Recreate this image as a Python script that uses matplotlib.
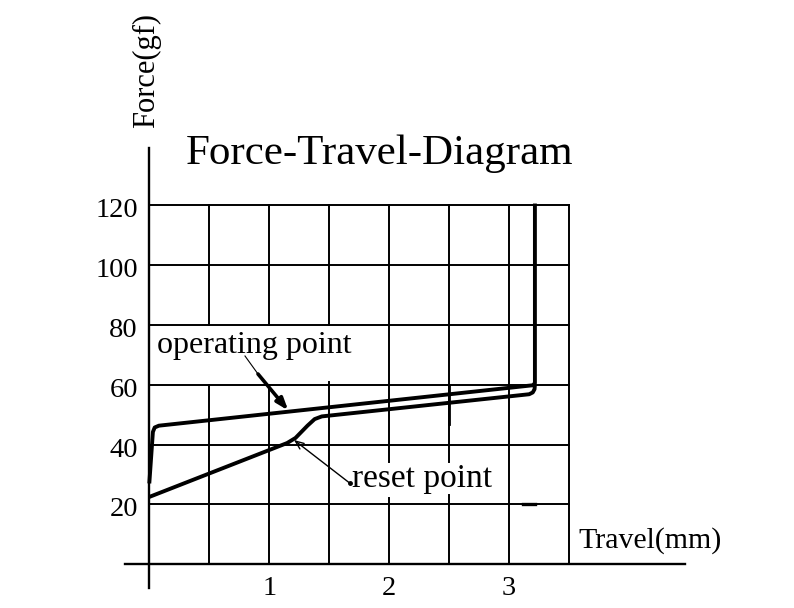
import matplotlib

matplotlib.use("Agg")
import matplotlib.pyplot as plt

plt.rcParams["font.family"] = ["Liberation Serif", "DejaVu Serif"]

# Travel (mm) / force (gf)
press_travel = [0.0, 0.03, 0.045, 0.08, 3.20, 3.218, 3.218]
press_force = [27.0, 44.2, 45.7, 46.3, 59.8, 60.5, 120.5]

return_travel = [0.0, 1.15, 1.22, 1.32, 1.38, 1.44, 3.17, 3.20, 3.215, 3.218]
return_force = [22.5, 40.5, 42.2, 46.3, 48.5, 49.4, 56.8, 57.4, 58.5, 60.0]

x_ticks = [1, 2, 3]
y_ticks = [20, 40, 60, 80, 100, 120]
x_grid = [0.5, 1.0, 1.5, 2.0, 2.5, 3.0, 3.5]

title = "Force-Travel-Diagram"
x_label = "Travel(mm)"
y_label = "Force(gf)"

# pixel layout of the original drawing
X0_PX, X_SCALE = 149.3, 119.83
Y0_PX, Y_SCALE = 564.3, 2.994
W, H = 794, 608


def px_x(p):
    return (p - X0_PX) / X_SCALE


def px_y(p):
    return (Y0_PX - p) / Y_SCALE


def main():
    fig = plt.figure(figsize=(W / 100, H / 100), dpi=100)
    ax = fig.add_axes([0, 0, 1, 1])
    ax.set_xlim(px_x(0), px_x(W))
    ax.set_ylim(px_y(H), px_y(0))
    ax.axis("off")

    grid_kw = dict(color="black", linewidth=1.4, zorder=1)
    x_max = x_grid[-1]
    y_max = y_ticks[-1]

    # horizontal grid lines
    for v in y_ticks:
        ax.plot([0, x_max], [v, v], **grid_kw)

    # vertical grid lines, with the blank patches left around the labels
    gaps = {0.5: (60, 80), 1.0: (60, 80), 1.5: (61, 80), 2.0: (22, 34.3), 2.5: (23, 34.3)}
    for x in x_grid:
        if x in gaps:
            lo, hi = gaps[x]
            ax.plot([x, x], [0, lo], **grid_kw)
            ax.plot([x, x], [hi, y_max], **grid_kw)
        else:
            ax.plot([x, x], [0, y_max], **grid_kw)
    ax.plot([2.5, 2.5], [47, 59.5], color="black", linewidth=2.0, zorder=1)
    ax.plot([3.12, 3.22], [20, 20], color="black", linewidth=2.4, zorder=1)

    # axes
    ax.plot([px_x(125), px_x(685)], [0, 0], color="black", linewidth=1.7, zorder=2)
    ax.plot([0, 0], [px_y(588), px_y(148)], color="black", linewidth=1.7, zorder=2)

    # curves
    curve_kw = dict(color="black", linewidth=2.8, solid_joinstyle="round",
                    solid_capstyle="butt", zorder=3)
    ax.plot(press_travel, press_force, **curve_kw)
    ax.plot(return_travel, return_force, **curve_kw)

    # tick labels
    for v in y_ticks:
        ax.text(px_x(138), v - 4.0, str(v), ha="right", va="baseline", fontsize=20.5)
    for v in x_ticks:
        ax.text(v, px_y(595), str(v), ha="center", va="baseline", fontsize=20.5)

    ax.text(px_x(380), px_y(164), title, ha="center", va="baseline", fontsize=31)
    ax.text(px_x(578), px_y(548), x_label, ha="left", va="baseline", fontsize=21.5)
    ax.text(px_x(147), px_y(128), y_label, ha="center", va="bottom",
            rotation=90, fontsize=22)

    # operating point label and arrow
    ax.text(px_x(156.7), px_y(352.7), "operating point", ha="left", va="baseline",
            fontsize=23)
    ax.plot([px_x(245), px_x(258)], [px_y(356), px_y(374)], color="black",
            linewidth=0.8, zorder=4)
    ax.annotate("", xy=(px_x(288.3), px_y(410.5)), xytext=(px_x(258), px_y(374)),
                arrowprops=dict(arrowstyle="-|>,head_length=0.7,head_width=0.25",
                                color="black", linewidth=2.6, shrinkA=0, shrinkB=0),
                zorder=4)

    # reset point label and arrow
    ax.text(px_x(351.7), px_y(486.7), "reset point", ha="left", va="baseline",
            fontsize=24)
    ax.plot([px_x(350)], [px_y(483.3)], marker="o", markersize=2.5, color="black")
    ax.annotate("", xy=(px_x(294), px_y(440)), xytext=(px_x(350), px_y(483.3)),
                arrowprops=dict(arrowstyle="->,head_length=0.6,head_width=0.25",
                                color="black", linewidth=1.0, shrinkA=0, shrinkB=0),
                zorder=4)

    fig.savefig("out.png", dpi=100, facecolor="white")


if __name__ == "__main__":
    main()
